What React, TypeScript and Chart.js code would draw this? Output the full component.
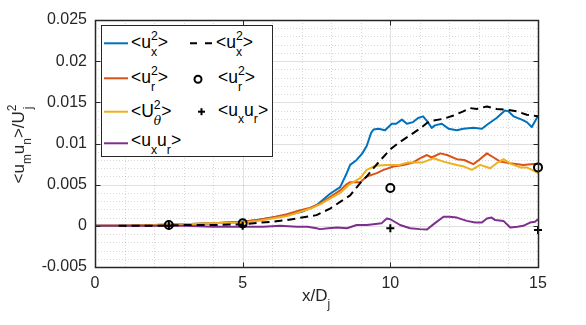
import React, { useEffect, useRef } from 'react';
import { Chart, registerables } from 'chart.js';
Chart.register(...registerables);

const FONT = '"Liberation Sans", Arial, Helvetica, sans-serif';
const AX = '#262626';
const BLUE = '#0072BD';
const ORANGE = '#D95319';
const YELLOW = '#EDB120';
const PURPLE = '#7E2F8E';

const X_MIN = 0, X_MAX = 15, Y_MIN = -0.005, Y_MAX = 0.025;
const xTicks = [0, 5, 10, 15];
const xTickLabels = ['0', '5', '10', '15'];
const yTicks = [-0.005, 0, 0.005, 0.01, 0.015, 0.02, 0.025];
const yTickLabels = ['-0.005', '0', '0.005', '0.01', '0.015', '0.02', '0.025'];
const xMinorStep = 1;
const yMinorStep = 0.001;

// <u_x^2> (solid blue)
const uxX = [0, 1, 2, 3, 4, 5, 5.5, 6, 6.5, 7, 7.5, 7.96, 8.3, 8.5, 8.64, 8.86, 9.05, 9.2, 9.35, 9.43, 9.6, 9.82, 10.05, 10.2, 10.39, 10.56, 10.77, 10.94, 11.11, 11.25, 11.4, 11.51, 11.74, 11.97, 12.25, 12.47, 12.81, 13.1, 13.32, 13.6, 13.88, 14.0, 14.17, 14.45, 14.62, 14.79, 14.96, 15];
const uxY = [0, 0, 0.0001, 0.0002, 0.0003, 0.0005, 0.0007, 0.001, 0.0013, 0.0017, 0.0025, 0.0039, 0.0047, 0.0062, 0.0074, 0.008, 0.0088, 0.0097, 0.0113, 0.0117, 0.0118, 0.0116, 0.0124, 0.0124, 0.0129, 0.0124, 0.0126, 0.0131, 0.0133, 0.0127, 0.0119, 0.0122, 0.0124, 0.0118, 0.0116, 0.0118, 0.0119, 0.0118, 0.0124, 0.0131, 0.014, 0.0139, 0.0133, 0.0129, 0.0126, 0.012, 0.0131, 0.0133];

// <u_r^2> (solid orange)
const urX = [0, 1, 2, 3, 4, 5, 5.5, 6, 6.5, 6.95, 7.3, 7.62, 7.96, 8.3, 8.5, 8.64, 8.98, 9.2, 9.54, 9.77, 10.1, 10.44, 10.78, 11.0, 11.24, 11.4, 11.69, 11.92, 12.25, 12.5, 12.81, 13.0, 13.27, 13.5, 13.72, 14.06, 14.5, 14.84, 15];
const urY = [0, 0, 0.0001, 0.0002, 0.0003, 0.0005, 0.0007, 0.001, 0.0014, 0.0019, 0.0022, 0.0027, 0.0035, 0.0043, 0.005, 0.0053, 0.0053, 0.006, 0.0064, 0.0068, 0.0072, 0.0074, 0.0077, 0.0082, 0.0086, 0.0083, 0.0088, 0.0086, 0.0081, 0.008, 0.0075, 0.008, 0.0088, 0.0083, 0.0078, 0.0076, 0.0074, 0.0075, 0.0075];

// <U_theta^2> (solid yellow)
const utX = [0, 1, 2, 3, 4, 5, 5.5, 6, 6.5, 6.95, 7.3, 7.62, 7.96, 8.3, 8.64, 8.98, 9.2, 9.5, 9.88, 10.3, 10.6, 11.1, 11.46, 11.8, 12.25, 12.5, 12.76, 13.04, 13.38, 13.6, 13.83, 14.1, 14.4, 14.62, 14.85, 15];
const utY = [0, 0, 0.0001, 0.0002, 0.0003, 0.0004, 0.0006, 0.0009, 0.0012, 0.0017, 0.0021, 0.0026, 0.0033, 0.004, 0.0051, 0.0058, 0.0068, 0.0073, 0.0074, 0.0074, 0.0077, 0.0077, 0.0082, 0.0078, 0.0074, 0.0072, 0.0068, 0.0074, 0.007, 0.0076, 0.0081, 0.0075, 0.0071, 0.0071, 0.0067, 0.0064];

// <u_x u_r> (solid purple)
const uxurX = [0, 1, 2, 3, 4, 4.58, 5.7, 6.27, 6.83, 7.2, 7.5, 7.62, 7.9, 8.2, 8.53, 8.86, 9.2, 9.43, 9.7, 9.88, 10.0, 10.33, 10.67, 11.0, 11.24, 11.5, 11.8, 12.0, 12.25, 12.59, 12.87, 13.1, 13.27, 13.43, 13.55, 13.83, 14.06, 14.3, 14.5, 14.73, 14.9, 15];
const uxurY = [0, 0, 0, 0, -0.0001, -0.0001, -0.0001, 0, -0.0001, -0.0001, -0.0003, -0.0004, -0.0003, -0.0002, -0.0003, 0.0001, 0.0001, 0.0002, 0.0003, 0.0009, 0.0008, 0.0001, -0.0003, -0.0004, -0.00045, 0.0003, 0.0011, 0.0011, 0.001, 0.0006, 0.0004, 0.0004, 0.0009, 0.001, 0.0007, 0.0006, -0.0002, -0.0001, 0, 0.0004, 0.0005, 0.0008];

// <u_x^2> (dashed black)
const uxDashX = [0.8, 2, 3, 4, 5, 6, 6.5, 6.83, 7.5, 7.96, 8.3, 8.64, 8.98, 9.2, 9.43, 9.67, 10.0, 10.33, 10.67, 11.0, 11.24, 11.46, 11.8, 12.14, 12.47, 12.7, 12.93, 13.27, 13.6, 13.94, 14.28, 14.62, 15];
const uxDashY = [0, 0, 0.0001, 0.0001, 0.0002, 0.0005, 0.0007, 0.0009, 0.0013, 0.0021, 0.0029, 0.0037, 0.0052, 0.006, 0.007, 0.008, 0.0093, 0.0102, 0.011, 0.0118, 0.0125, 0.0128, 0.013, 0.0134, 0.0139, 0.0143, 0.0142, 0.0145, 0.0142, 0.0141, 0.0139, 0.0135, 0.0133];

// <u_r^2> (open circles)
const circX = [2.5, 5, 10, 15];
const circY = [0.0001, 0.0003, 0.0046, 0.0071];

// <u_x u_r> (plus markers)
const plusX = [2.5, 5, 10, 15];
const plusY = [0, 0, -0.0003, -0.0005];

const isMajor = (v: number, majors: number[]) => majors.some(t => Math.abs(t - v) < 1e-9);

const axesFrame = {
  id: 'axesFrame',
  beforeDatasetsDraw(chart: any) {
    const { ctx, chartArea: a, scales } = chart;
    const xs = scales.x, ys = scales.y;
    ctx.save();
    ctx.lineWidth = 1;
    ctx.strokeStyle = 'rgba(38,38,38,0.18)';
    ctx.setLineDash([1, 2]);
    const nx = Math.round((X_MAX - X_MIN) / xMinorStep);
    for (let i = 0; i <= nx; i++) {
      const v = X_MIN + i * xMinorStep;
      if (isMajor(v, xTicks)) continue;
      const p = Math.round(xs.getPixelForValue(v)) + 0.5;
      ctx.beginPath(); ctx.moveTo(p, a.top); ctx.lineTo(p, a.bottom); ctx.stroke();
    }
    const ny = Math.round((Y_MAX - Y_MIN) / yMinorStep);
    for (let i = 0; i <= ny; i++) {
      const v = Y_MIN + i * yMinorStep;
      if (isMajor(v, yTicks)) continue;
      const p = Math.round(ys.getPixelForValue(v)) + 0.5;
      ctx.beginPath(); ctx.moveTo(a.left, p); ctx.lineTo(a.right, p); ctx.stroke();
    }
    ctx.setLineDash([]);
    ctx.strokeStyle = 'rgba(38,38,38,0.14)';
    xTicks.forEach(v => {
      const p = Math.round(xs.getPixelForValue(v)) + 0.5;
      ctx.beginPath(); ctx.moveTo(p, a.top); ctx.lineTo(p, a.bottom); ctx.stroke();
    });
    yTicks.forEach(v => {
      const p = Math.round(ys.getPixelForValue(v)) + 0.5;
      ctx.beginPath(); ctx.moveTo(a.left, p); ctx.lineTo(a.right, p); ctx.stroke();
    });
    ctx.restore();
  },
  afterDatasetsDraw(chart: any) {
    const { ctx, chartArea: a, scales } = chart;
    const xs = scales.x, ys = scales.y;
    ctx.save();
    ctx.strokeStyle = AX;
    ctx.lineWidth = 1.5;
    const L = Math.round(a.left) + 0.5, R = Math.round(a.right) + 0.5;
    const T = Math.round(a.top) + 0.5, B = Math.round(a.bottom) + 0.5;
    ctx.strokeRect(L, T, R - L, B - T);
    ctx.lineWidth = 1;
    const tl = 5;
    xTicks.forEach(v => {
      const p = Math.round(xs.getPixelForValue(v)) + 0.5;
      ctx.beginPath(); ctx.moveTo(p, B); ctx.lineTo(p, B - tl); ctx.stroke();
      ctx.beginPath(); ctx.moveTo(p, T); ctx.lineTo(p, T + tl); ctx.stroke();
    });
    yTicks.forEach(v => {
      const p = Math.round(ys.getPixelForValue(v)) + 0.5;
      ctx.beginPath(); ctx.moveTo(L, p); ctx.lineTo(L + tl, p); ctx.stroke();
      ctx.beginPath(); ctx.moveTo(R, p); ctx.lineTo(R - tl, p); ctx.stroke();
    });
    ctx.restore();
  },
};

function Stack({ sup, sub, subItalic = false }: { sup: string; sub: string; subItalic?: boolean }) {
  return (
    <span style={{ display: 'inline-flex', flexDirection: 'column', fontSize: '0.7em', lineHeight: 1.3, position: 'relative', top: '-0.66em', verticalAlign: 'baseline' }}>
      <span>{sup}</span>
      <span style={{ fontStyle: subItalic ? 'italic' : 'normal', fontFamily: subItalic ? '"DejaVu Serif", serif' : undefined }}>{sub}</span>
    </span>
  );
}

function Sub({ t }: { t: string }) {
  return <span style={{ fontSize: '0.7em', position: 'relative', top: '0.62em' }}>{t}</span>;
}

function Txt({ x, y, children, size = 17.5 }: { x: number; y: number; children: any; size?: number }) {
  const base = -((1.117 * size - size) / 2) + 0.905 * size;
  return (
    <div style={{ position: 'absolute', left: x, top: y - base, fontSize: size, lineHeight: `${size}px`, whiteSpace: 'nowrap', color: '#000', fontFamily: FONT }}>
      {children}
    </div>
  );
}

const rowY = [43.3, 78.3, 111.7, 143.3];

export default function App() {
  const ref = useRef<HTMLCanvasElement>(null);
  useEffect(() => {
    const pts = (xs: number[], ys: number[]) => xs.map((x, i) => ({ x, y: ys[i] }));
    const line = (label: string, xs: number[], ys: number[], color: string, order: number, dash: number[] = []) => ({
      label, data: pts(xs, ys), borderColor: color, backgroundColor: color, borderWidth: 2,
      pointRadius: 0, tension: 0, fill: false, order, borderDash: dash, borderCapStyle: 'butt', borderJoinStyle: 'round',
    });
    const tickFont = { family: FONT, size: 16 };
    const chart = new Chart(ref.current as HTMLCanvasElement, {
      type: 'line',
      data: {
        datasets: [
          line('<u_x^2>', uxX, uxY, BLUE, 6),
          line('<u_r^2>', urX, urY, ORANGE, 5),
          line('<U_θ^2>', utX, utY, YELLOW, 4),
          line('<u_x u_r>', uxurX, uxurY, PURPLE, 3),
          line('<u_x^2> dashed', uxDashX, uxDashY, '#000', 2, [8, 5]),
          {
            label: '<u_r^2> circles', data: pts(circX, circY), showLine: false, pointStyle: 'circle', pointRadius: 4,
            pointBorderWidth: 2, pointBorderColor: '#000', pointBackgroundColor: 'rgba(0,0,0,0)', borderColor: '#000', order: 1, clip: false,
          },
          {
            label: '<u_x u_r> plus', data: pts(plusX, plusY), showLine: false, pointStyle: 'cross', pointRadius: 4,
            pointBorderWidth: 2, pointBorderColor: '#000', borderColor: '#000', order: 0, clip: false,
          },
        ] as any,
      },
      options: {
        animation: false,
        responsive: false,
        maintainAspectRatio: false,
        events: [],
        layout: { padding: { left: 0, right: 48, top: 20, bottom: 0 } },
        plugins: { legend: { display: false }, tooltip: { enabled: false } },
        scales: {
          x: {
            type: 'linear', min: X_MIN, max: X_MAX,
            afterBuildTicks: (s: any) => { s.ticks = xTicks.map(v => ({ value: v })); },
            afterFit: (s: any) => { s.height = 58; },
            grid: { display: false, drawTicks: false },
            border: { display: false },
            ticks: {
              padding: 7, color: AX, font: tickFont, maxRotation: 0, autoSkip: false,
              callback: (v: any) => { const i = xTicks.findIndex(t => Math.abs(t - v) < 1e-9); return i >= 0 ? xTickLabels[i] : ''; },
            },
          },
          y: {
            type: 'linear', min: Y_MIN, max: Y_MAX,
            afterBuildTicks: (s: any) => { s.ticks = yTicks.map(v => ({ value: v })); },
            afterFit: (s: any) => { s.width = 95; },
            grid: { display: false, drawTicks: false },
            border: { display: false },
            ticks: {
              padding: 8, color: AX, font: tickFont, autoSkip: false,
              callback: (v: any) => { const i = yTicks.findIndex(t => Math.abs(t - v) < 1e-9); return i >= 0 ? yTickLabels[i] : ''; },
            },
          },
        },
      } as any,
      plugins: [axesFrame],
    });
    return () => chart.destroy();
  }, []);

  return (
    <div style={{ position: 'fixed', left: 0, top: 0, width: 586, height: 325, background: '#fff', fontFamily: FONT, overflow: 'hidden' }}>
      <canvas ref={ref} width={586} height={325} style={{ display: 'block', width: 586, height: 325 }} />

      <div style={{ position: 'absolute', left: 216, width: 200, top: 286, textAlign: 'center', fontSize: 17, lineHeight: '20px', color: AX, whiteSpace: 'nowrap' }}>
        x/D<Sub t="j" />
      </div>
      <div style={{ position: 'absolute', left: 19 - 100, top: 144 - 10, width: 200, height: 20, textAlign: 'center', fontSize: 17, lineHeight: '20px', color: AX, whiteSpace: 'nowrap', transform: 'rotate(-90deg)', transformOrigin: '50% 50%' }}>
        {'<u'}<Sub t="m" />{'u'}<Sub t="n" />{'>/U'}<Stack sup="2" sub="j" />
      </div>

      <div style={{ position: 'absolute', left: 101, top: 25, width: 172, height: 132, boxSizing: 'border-box', border: `1px solid ${AX}`, background: '#fff' }} />
      <svg width={586} height={325} style={{ position: 'absolute', left: 0, top: 0, pointerEvents: 'none' }}>
        <line x1={104} x2={128} y1={rowY[0]} y2={rowY[0]} stroke={BLUE} strokeWidth={2} />
        <line x1={104} x2={128} y1={rowY[1]} y2={rowY[1]} stroke={ORANGE} strokeWidth={2} />
        <line x1={104} x2={128} y1={rowY[2]} y2={rowY[2]} stroke={YELLOW} strokeWidth={2} />
        <line x1={104} x2={128} y1={rowY[3]} y2={rowY[3]} stroke={PURPLE} strokeWidth={2} />
        <line x1={190} x2={213} y1={rowY[0]} y2={rowY[0]} stroke="#000" strokeWidth={2} strokeDasharray="7,8" />
        <circle cx={198} cy={rowY[1] + 1} r={3.5} fill="none" stroke="#000" strokeWidth={2} />
        <line x1={198} x2={205} y1={rowY[2]} y2={rowY[2]} stroke="#000" strokeWidth={2} />
        <line x1={201.5} x2={201.5} y1={rowY[2] - 3.5} y2={rowY[2] + 3.5} stroke="#000" strokeWidth={2} />
      </svg>
      <Txt x={131} y={rowY[0] + 6}>{'<u'}<Stack sup="2" sub="x" />{'>'}</Txt>
      <Txt x={131} y={rowY[1] + 6}>{'<u'}<Stack sup="2" sub="r" />{'>'}</Txt>
      <Txt x={131} y={rowY[2] + 6}>{'<U'}<Stack sup="2" sub="θ" subItalic />{'>'}</Txt>
      <Txt x={131} y={rowY[3] + 4}>{'<u'}<Sub t="x" />{'u'}<Sub t="r" />{'>'}</Txt>
      <Txt x={216} y={rowY[0] + 6}>{'<u'}<Stack sup="2" sub="x" />{'>'}</Txt>
      <Txt x={218} y={rowY[1] + 6}>{'<u'}<Stack sup="2" sub="r" />{'>'}</Txt>
      <Txt x={218} y={rowY[2] + 5}>{'<u'}<Sub t="x" />{'u'}<Sub t="r" />{'>'}</Txt>
    </div>
  );
}
